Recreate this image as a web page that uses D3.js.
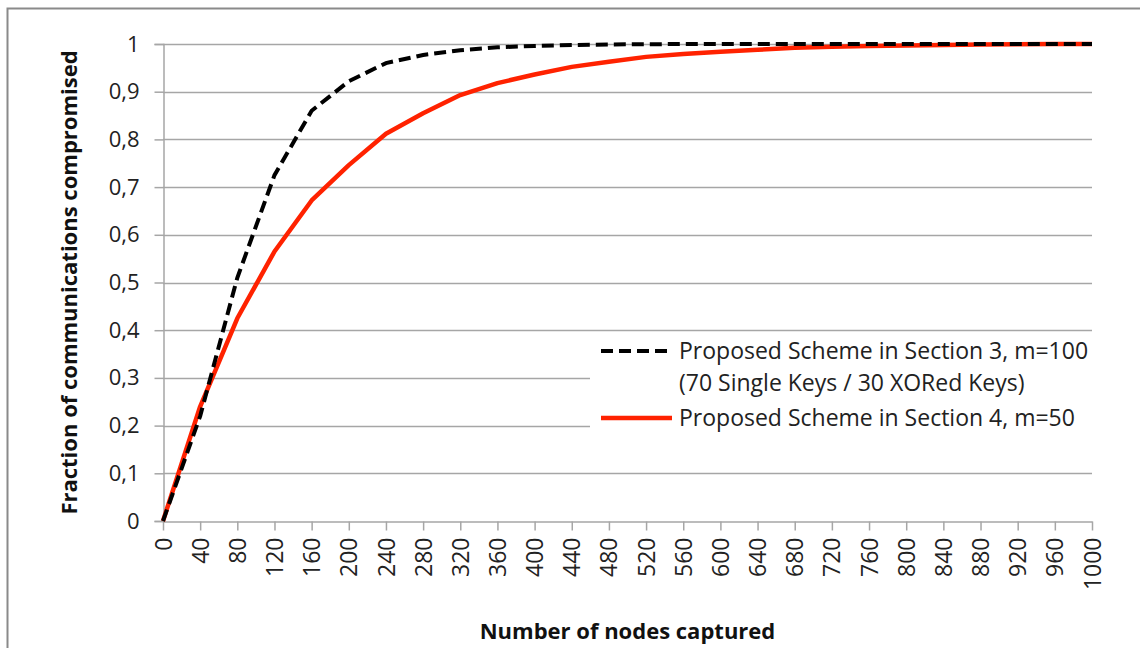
<!DOCTYPE html>
<html>
<head>
<meta charset="utf-8">
<script src="https://cdn.jsdelivr.net/npm/d3@7"></script>
<style>
  body { margin: 0; background: #fff; }
  svg { display: block; }
</style>
</head>
<body>
<div id="chart"></div>
<script>
// captured nodes (x categories)
const nodes = [0, 40, 80, 120, 160, 200, 240, 280, 320, 360, 400, 440, 480, 520, 560, 600,
  640, 680, 720, 760, 800, 840, 880, 920, 960, 1000];

// Section 3 scheme, m=100 (dashed black)
const scheme3 = [0, 0.22, 0.51, 0.725, 0.86, 0.922, 0.96, 0.977, 0.987, 0.993, 0.996, 0.998,
  0.999, 0.9995, 1, 1, 1, 1, 1, 1, 1, 1, 1, 1, 1, 1];

// Section 4 scheme, m=50 (red)
const scheme4 = [0, 0.24, 0.425, 0.565, 0.672, 0.746, 0.812, 0.855, 0.893, 0.918, 0.936, 0.952,
  0.963, 0.973, 0.979, 0.984, 0.988, 0.992, 0.994, 0.996, 0.997, 0.998, 0.999, 0.9995, 1, 1];

const yTicks = [0, 0.1, 0.2, 0.3, 0.4, 0.5, 0.6, 0.7, 0.8, 0.9, 1];

const legendItems = [
  { lines: ['Proposed Scheme in Section 3, m=100', '(70 Single Keys / 30 XORed Keys)'], color: '#000', dash: '12,6', width: 4 },
  { lines: ['Proposed Scheme in Section 4, m=50'], color: '#ff2200', dash: null, width: 4.5 }
];

const width = 1140, height = 648;
const margin = { top: 44, right: 48, bottom: 127, left: 163 };
const font = '"Open Sans", Lato, sans-serif';

const svg = d3.select('#chart').append('svg')
  .attr('width', width).attr('height', height)
  .style('font-family', font);

// outer border (runs past the right/bottom edge like the reference crop)
svg.append('rect')
  .attr('x', 7.5).attr('y', 8.5)
  .attr('width', width).attr('height', height)
  .attr('fill', 'none').attr('stroke', '#8a8a8a').attr('stroke-width', 2);

const innerW = width - margin.left - margin.right;
const innerH = height - margin.top - margin.bottom;
const g = svg.append('g').attr('transform', `translate(${margin.left},${margin.top})`);

const x = d3.scaleLinear().domain([0, 1000]).range([0, innerW]);
const y = d3.scaleLinear().domain([0, 1]).range([innerH, 0]);

// horizontal gridlines
g.append('g').selectAll('line').data(yTicks.filter(d => d > 0)).join('line')
  .attr('x1', 0).attr('x2', innerW)
  .attr('y1', d => Math.round(y(d)) + 0.5).attr('y2', d => Math.round(y(d)) + 0.5)
  .attr('stroke', '#a6a6a6').attr('stroke-width', 1.5);

// y axis
const yAxis = g.append('g').attr('transform', 'translate(0.5,0)')
  .call(d3.axisLeft(y).tickValues(yTicks).tickSize(9).tickPadding(15)
    .tickFormat(d => d === 0 || d === 1 ? String(d) : d3.format('.1f')(d).replace('.', ',')));
yAxis.select('.domain').attr('stroke', '#a6a6a6').attr('stroke-width', 1.5);
yAxis.selectAll('.tick line').attr('stroke', '#a6a6a6').attr('stroke-width', 1.5);
yAxis.selectAll('.tick text').attr('font-size', 22).attr('fill', '#222').style('font-family', font);

// x axis
const xAxis = g.append('g').attr('transform', `translate(0,${innerH + 0.5})`)
  .call(d3.axisBottom(x).tickValues(nodes).tickSize(9).tickSizeOuter(0).tickFormat(d3.format('d')));
xAxis.select('.domain').attr('stroke', '#a6a6a6').attr('stroke-width', 1.5);
xAxis.selectAll('.tick line').attr('stroke', '#a6a6a6').attr('stroke-width', 1.5);
xAxis.selectAll('.tick text')
  .attr('font-size', 23).attr('fill', '#222').style('font-family', font)
  .attr('text-anchor', 'end')
  .attr('transform', 'rotate(-90)')
  .attr('x', -16).attr('y', 0).attr('dy', '0.35em');

// legend background hides the gridlines under it
const legX = 590, legY = 336;
g.append('rect')
  .attr('x', legX - margin.left).attr('y', legY - margin.top)
  .attr('width', innerW - (legX - margin.left) + 1).attr('height', 104)
  .attr('fill', '#fff');

// series
const line = d3.line().x((d, i) => x(nodes[i])).y(d => y(d));

g.append('path').datum(scheme4)
  .attr('d', line).attr('fill', 'none')
  .attr('stroke', '#ff2200').attr('stroke-width', 4.5).attr('stroke-linejoin', 'round');

g.append('path').datum(scheme3)
  .attr('d', line).attr('fill', 'none')
  .attr('stroke', '#000').attr('stroke-width', 4).attr('stroke-dasharray', '12,6');

// legend
const leg = svg.append('g');
let ly = 351;
legendItems.forEach(item => {
  leg.append('line')
    .attr('x1', 601).attr('x2', 672).attr('y1', ly).attr('y2', ly)
    .attr('stroke', item.color).attr('stroke-width', item.width)
    .attr('stroke-dasharray', item.dash);
  item.lines.forEach((t, j) => {
    leg.append('text')
      .attr('x', 679).attr('y', ly + j * 32).attr('dy', '0.35em')
      .attr('font-size', 23).attr('fill', '#222')
      .text(t);
  });
  ly += item.lines.length * 32 + 3;
});

// axis titles
svg.append('text')
  .attr('x', margin.left + innerW / 2).attr('y', 639)
  .attr('text-anchor', 'middle').attr('font-size', 22).attr('font-weight', 'bold')
  .attr('fill', '#111')
  .text('Number of nodes captured');

svg.append('text')
  .attr('transform', `translate(77,${margin.top + innerH / 2}) rotate(-90)`)
  .attr('text-anchor', 'middle').attr('font-size', 22).attr('font-weight', 'bold')
  .attr('fill', '#111')
  .text('Fraction of communications compromised');
</script>
</body>
</html>
